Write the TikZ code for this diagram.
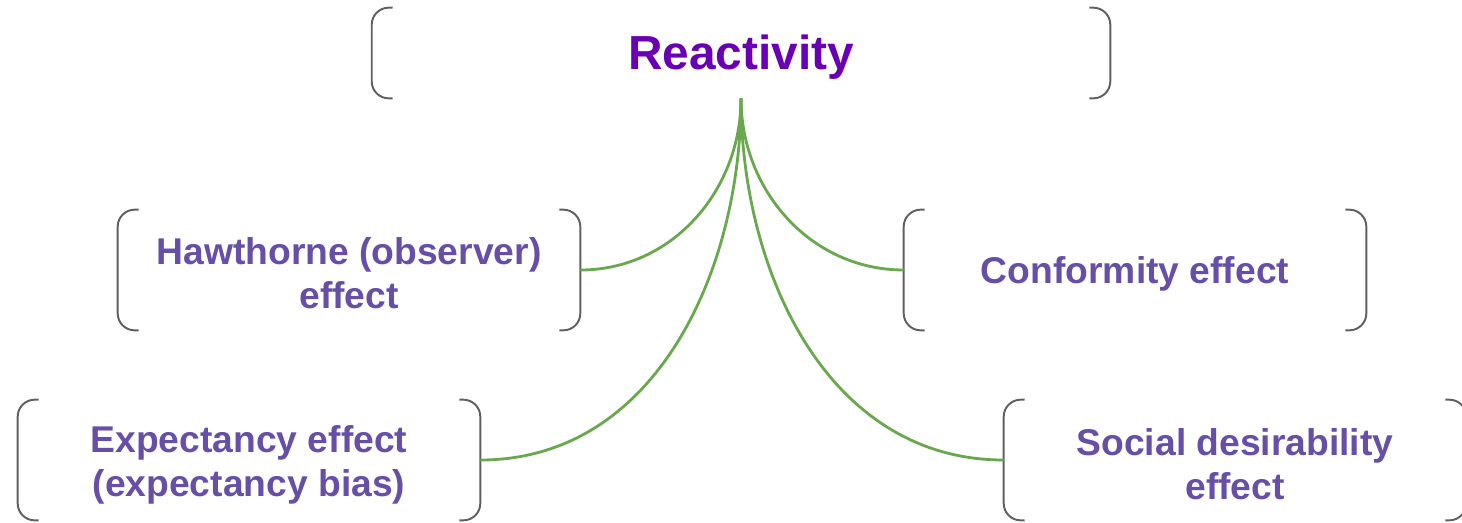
\documentclass[tikz,border=0pt]{standalone}
\usepackage{fontspec}
\setmainfont{Liberation Sans}
\usetikzlibrary{positioning}
\definecolor{titlepurple}{HTML}{6A00B4}
\definecolor{itempurple}{HTML}{674EA7}
\definecolor{linkgreen}{HTML}{6AA84F}
\definecolor{brkgray}{HTML}{5F5F5F}

% strut that pushes the first line down a little
\newcommand{\lift}[1]{\rule{0pt}{#1}}
% open brackets round a named node
\newcommand{\brackets}[1]{%
  \draw[brk] ([xshift=0.42cm]#1.north west) -- (#1.north west) -- (#1.south west) -- ([xshift=0.42cm]#1.south west);
  \draw[brk] ([xshift=-0.42cm]#1.north east) -- (#1.north east) -- (#1.south east) -- ([xshift=-0.42cm]#1.south east);}

\begin{document}
\begin{tikzpicture}[x=0.02cm, y=-0.02cm]
\tikzset{box/.style={inner sep=0pt, align=center, minimum width=9.24cm, minimum height=2.4cm, text=itempurple, font=\fontsize{21.2}{25.5}\selectfont\bfseries}}
\tikzset{brk/.style={draw=brkgray, line width=1.1pt, rounded corners=0.34cm}}
\tikzset{link/.style={draw=linkgreen, line width=1.6pt}}
\useasboundingbox (0,0) rectangle (1462,522);
\node[box, minimum width=14.76cm, minimum height=1.8cm, text=titlepurple, font=\fontsize{27.2}{32}\selectfont\bfseries] (react) at (741,53) {\lift{24.5pt}Reactivity};
\node[box] (haw) at (349,270) {\lift{19pt}Hawthorne (observer)\\effect};
\node[box] (conf) at (1135,270) {\lift{20pt}Conformity effect};
\node[box] (exp) at (249,460) {\lift{21pt}Expectancy effect\\(expectancy bias)};
\node[box] (soc) at (1235,460) {\lift{20pt}Social desirability\\effect};
\brackets{react}
\brackets{haw}
\brackets{conf}
\brackets{exp}
\brackets{soc}
\draw[link] (react.south) to[out=-90, in=0] (haw.east);
\draw[link] (react.south) to[out=-90, in=180] (conf.west);
\draw[link] (react.south) to[out=-90, in=0] (exp.east);
\draw[link] (react.south) to[out=-90, in=180] (soc.west);
\end{tikzpicture}
\end{document}
